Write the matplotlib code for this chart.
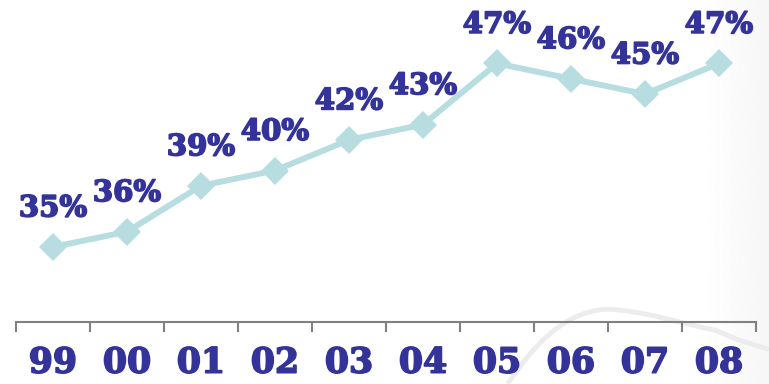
import os
import numpy as np
import matplotlib
matplotlib.use("Agg")
import matplotlib.pyplot as plt
from matplotlib.patches import PathPatch
from matplotlib.path import Path
from matplotlib.font_manager import FontProperties, findfont
import matplotlib.patheffects as pe

# Share of respondents by year
years = ["99", "00", "01", "02", "03", "04", "05", "06", "07", "08"]
shares = [35, 36, 39, 40, 42, 43, 47, 46, 45, 47]
labels = [f"{v}%" for v in shares]

LINE_COLOR = "#b7dde1"
TEXT_COLOR = "#333399"
AXIS_COLOR = "#808080"

# heavy serif face for all text
bold_path = os.path.join(matplotlib.get_data_path(), "fonts", "ttf", "DejaVuSerif-Bold.ttf")
if not os.path.exists(bold_path):
    bold_path = findfont(FontProperties(family="DejaVu Serif", weight="bold"))
label_font = FontProperties(fname=bold_path, size=21)
tick_font = FontProperties(fname=bold_path, size=25)
thicken = [pe.withStroke(linewidth=1.2, foreground=TEXT_COLOR)]

fig = plt.figure(figsize=(7.69, 3.84), dpi=100, facecolor="white")

# background: white fading to a pale grey at the right edge
bg = fig.add_axes([0, 0, 1, 1], zorder=-2)
grad = np.clip((np.linspace(0, 1, 400) - 0.91) / 0.09, 0, 1)
shade = 1.0 - 0.035 * grad
bg.imshow(np.tile(shade, (2, 1)), cmap="gray", vmin=0, vmax=1, aspect="auto",
          extent=(0, 1, 0, 1), interpolation="bilinear")
bg.set_xlim(0, 1)
bg.set_ylim(0, 1)
bg.axis("off")

# faint decorative outline in the lower right of the background
verts = [(0.66, 0.0), (0.70, 0.12), (0.74, 0.19), (0.79, 0.195),
         (0.84, 0.19), (0.88, 0.16), (0.93, 0.14), (0.96, 0.115), (1.0, 0.09)]
codes = [Path.MOVETO] + [Path.CURVE4] * 6 + [Path.LINETO] * 2
bg.add_patch(PathPatch(Path(verts, codes), facecolor="none",
                       edgecolor="#ececec", lw=3.5))

ax = fig.add_axes([0, 0, 1, 1])
ax.set_facecolor("none")

x = list(range(len(years)))
ax.plot(x, shares, color=LINE_COLOR, lw=4.3, marker="D", markersize=14,
        markeredgewidth=0, zorder=3)

for xi, v, lab in zip(x, shares, labels):
    ax.annotate(lab, (xi, v), xytext=(0, 22), textcoords="offset points",
                ha="center", va="baseline", fontproperties=label_font,
                color=TEXT_COLOR, zorder=4, path_effects=thicken)

ax.set_xlim(-0.716, 9.676)
ax.set_ylim(26.04, 51.15)

for side in ["top", "left", "right"]:
    ax.spines[side].set_visible(False)
ax.spines["bottom"].set_position(("data", 30.09))
ax.spines["bottom"].set_bounds(-0.5, 9.5)
ax.spines["bottom"].set_color(AXIS_COLOR)
ax.spines["bottom"].set_linewidth(1.5)

ax.set_yticks([])
ax.set_xticks(x)
ax.set_xticklabels(years)
for t in ax.get_xticklabels():
    t.set_fontproperties(tick_font)
    t.set_color(TEXT_COLOR)
    t.set_path_effects(thicken)
ax.tick_params(axis="x", which="major", length=0, pad=17)
ax.set_xticks([i - 0.5 for i in range(len(years) + 1)], minor=True)
ax.tick_params(axis="x", which="minor", length=7, width=1.5, color=AXIS_COLOR,
               direction="out")

fig.savefig("out.png", dpi=100, facecolor="white")
